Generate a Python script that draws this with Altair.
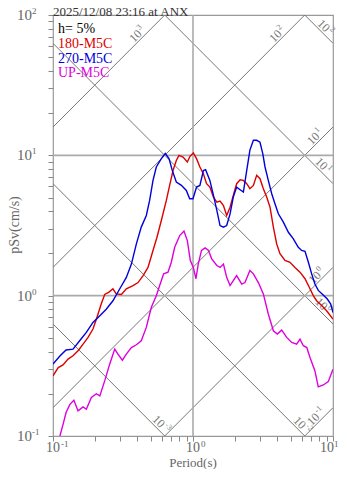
import altair as alt
import pandas as pd
import numpy as np

# ---------------- data ----------------
T_180 = [0.100, 0.109, 0.118, 0.128, 0.139, 0.151, 0.164, 0.178, 0.193, 0.206, 0.221, 0.234,
         0.251, 0.268, 0.283, 0.308, 0.334, 0.373, 0.405, 0.440, 0.477, 0.518, 0.553, 0.594,
         0.645, 0.681, 0.720, 0.760, 0.794, 0.849, 0.911, 0.952, 1.005, 1.060, 1.120, 1.186,
         1.250, 1.320, 1.400, 1.480, 1.560, 1.650, 1.740, 1.840, 1.940, 2.050, 2.170, 2.290,
         2.420, 2.550, 2.700, 2.850, 3.010, 3.180, 3.360, 3.550, 3.750, 3.960, 4.180, 4.540,
         4.930, 5.350, 5.810, 6.310, 6.850, 7.230, 7.640, 8.300, 9.000, 10.0]
SV_180 = [0.268, 0.307, 0.321, 0.353, 0.373, 0.405, 0.452, 0.504, 0.578, 0.70, 0.871, 1.02,
          1.06, 1.12, 1.03, 1.02, 1.12, 1.18, 1.24, 1.39, 1.59, 2.10, 2.61, 3.43,
          4.77, 6.1, 7.8, 9.2, 10.0, 9.73, 8.96, 9.84, 10.4, 9.47, 8.26, 7.39,
          6.28, 5.94, 5.04, 4.64, 4.72, 4.39, 3.73, 4.27, 5.18, 6.28, 6.70, 6.63,
          6.28, 5.78, 6.1, 7.2, 6.81, 5.78, 5.04, 4.27, 3.08, 2.34, 1.99, 1.78,
          1.73, 1.59, 1.47, 1.32, 1.12, 1.0, 0.92, 0.85, 0.78, 0.68]

T_270 = [0.100, 0.112, 0.124, 0.139, 0.155, 0.173, 0.193, 0.216, 0.240, 0.268, 0.300, 0.334,
         0.363, 0.394, 0.427, 0.464, 0.490, 0.518, 0.547, 0.594, 0.634, 0.674, 0.711, 0.760,
         0.826, 0.896, 0.947, 1.000, 1.060, 1.120, 1.186, 1.230, 1.320, 1.400, 1.480, 1.560,
         1.650, 1.740, 1.840, 1.940, 2.050, 2.170, 2.290, 2.420, 2.550, 2.700, 2.850, 3.010,
         3.150, 3.270, 3.450, 3.650, 3.850, 4.070, 4.420, 4.800, 5.210, 5.650, 5.970, 6.310,
         6.670, 7.040, 7.430, 7.850, 8.440, 9.110, 9.630, 10.0]
SV_270 = [0.325, 0.372, 0.41, 0.416, 0.477, 0.547, 0.645, 0.72, 0.80, 0.92, 1.12, 1.35,
          1.68, 2.34, 3.08, 3.73, 4.77, 6.63, 8.26, 9.47, 10.3, 9.47, 7.81, 6.45,
          6.11, 5.62, 4.9, 4.9, 5.94, 6.1, 7.8, 7.9, 6.63, 5.18, 4.05, 3.16,
          3.08, 3.16, 3.83, 5.04, 5.94, 5.69, 5.47, 7.8, 10.9, 12.8, 12.8, 12.4,
          10.3, 8.26, 6.63, 5.32, 4.52, 3.83, 3.34, 2.83, 2.54, 2.21, 2.10, 2.07,
          1.73, 1.43, 1.21, 1.09, 1.02, 0.946, 0.871, 0.759]

T_UP = [0.112, 0.118, 0.124, 0.132, 0.141, 0.151, 0.164, 0.173, 0.188, 0.204, 0.216, 0.234,
        0.254, 0.276, 0.291, 0.313, 0.334, 0.363, 0.394, 0.427, 0.464, 0.504, 0.547, 0.578,
        0.617, 0.663, 0.700, 0.740, 0.804, 0.862, 0.911, 0.957, 1.005, 1.050, 1.090, 1.150,
        1.220, 1.290, 1.360, 1.480, 1.560, 1.650, 1.740, 1.840, 1.940, 2.050, 2.230, 2.350,
        2.550, 2.700, 2.930, 3.180, 3.450, 3.750, 4.000, 4.300, 4.670, 5.070, 5.500, 5.810,
        6.140, 6.500, 6.850, 7.430, 7.850, 8.530, 9.250, 10.0]
SV_UP = [0.1, 0.121, 0.147, 0.168, 0.18, 0.151, 0.161, 0.155, 0.188, 0.2, 0.193, 0.247,
         0.325, 0.416, 0.383, 0.347, 0.383, 0.427, 0.447, 0.477, 0.594, 0.826, 1.0, 1.18,
         1.43, 1.47, 1.73, 2.21, 2.68, 2.89, 2.47, 1.78, 1.59, 1.32, 1.68, 2.10,
         2.19, 2.10, 1.83, 1.64, 1.59, 1.68, 1.35, 1.18, 1.28, 1.39, 1.21, 1.24,
         1.51, 1.43, 1.24, 1.03, 0.74, 0.562, 0.532, 0.568, 0.504, 0.464, 0.452, 0.49,
         0.44, 0.427, 0.363, 0.291, 0.224, 0.231, 0.244, 0.299]

SERIES = ["180-M5C", "270-M5C", "UP-M5C"]
COLORS = ["#dd0000", "#0000dd", "#dd00dd"]

TITLE = "2025/12/08 23:16 at ANX"
DAMPING = "h= 5%"

# tripartite grid levels: constant acceleration (gal) and displacement (cm)
ACC_LEVELS = [0.1, 1, 10, 100, 1000]
DISP_LEVELS = [0.01, 0.1, 1, 10, 100]
T_ENDS = [0.1, 10.0]

# diagonal labels: (base, exponent, kind, level, period where placed)
DIAG_LABELS = [
    ("10", "3", "a", 1000, 0.43),
    ("10", "2", "a", 100, 4.3),
    ("10", "2", "d", 100, 8.3),
    ("10", "1", "a", 10, 8.0),
    ("10", "1", "d", 10, 8.0),
    ("10", "0", "a", 1, 8.2),
    ("10", "0", "d", 1, 8.0),
    ("10", "-3", "d", 0.01, 0.55),
    ("10", "-2", "d", 0.1, 5.6),
    ("10", "-1", "a", 0.1, 8.0),
]

X_TICKS = [0.1, 0.2, 0.3, 0.4, 0.5, 0.6, 0.7, 0.8, 0.9,
           1, 2, 3, 4, 5, 6, 7, 8, 9, 10]
Y_TICKS = [0.1, 0.2, 0.3, 0.4, 0.5, 0.6, 0.7, 0.8, 0.9,
           1, 2, 3, 4, 5, 6, 7, 8, 9,
           10, 20, 30, 40, 50, 60, 70, 80, 90, 100]
X_LABEL_T = [0.1, 1]
X_LABEL_EXP = ["-1", "0"]
X_LAST_T = [10]
X_LAST_EXP = ["1"]
Y_LABEL_SV = [0.1, 1, 10, 100]
Y_LABEL_EXP = ["-1", "0", "1", "2"]

# ---------------- build tables ----------------
frames = []
for name, ts, svs in [("180-M5C", T_180, SV_180), ("270-M5C", T_270, SV_270), ("UP-M5C", T_UP, SV_UP)]:
    frames.append(pd.DataFrame({"series": name, "T": ts, "Sv": svs, "i": range(len(ts))}))
curves = pd.concat(frames, ignore_index=True)

rows = []
for a in ACC_LEVELS:
    for t in T_ENDS:
        rows.append({"id": f"a{a}", "T": t, "Sv": a * t / (2 * np.pi)})
for d in DISP_LEVELS:
    for t in T_ENDS:
        rows.append({"id": f"d{d}", "T": t, "Sv": 2 * np.pi * d / t})
diag_df = pd.DataFrame(rows)

lab_rows = []
for base, ex, kind, lev, t in DIAG_LABELS:
    sv = lev * t / (2 * np.pi) if kind == "a" else 2 * np.pi * lev / t
    lab_rows.append({"T": t, "Sv": sv, "base": base, "exp": ex, "ang": 315 if kind == "a" else 45})
diag_lab = pd.DataFrame(lab_rows)

FONT = "Liberation Serif"
GRAY = "#888888"
TXT = "#666666"

xs = alt.Scale(type="log", domain=[0.1, 10])
ys = alt.Scale(type="log", domain=[0.1, 100])
x_enc = alt.X("T:Q", scale=xs, axis=alt.Axis(values=X_TICKS, labels=False, title=None, tickSize=5,
                                               tickColor=GRAY, domain=False, grid=False))
y_enc = alt.Y("Sv:Q", scale=ys, axis=alt.Axis(values=Y_TICKS, labels=False, title=None, tickSize=5,
                                                tickColor=GRAY, domain=False, grid=False))

one = pd.DataFrame({"k": [0]})

diag = alt.Chart(diag_df).mark_line(clip=True, color="#777777", strokeWidth=1).encode(
    x=x_enc, y=y_enc, detail="id:N", order="T:Q")

vgrid = alt.Chart(pd.DataFrame({"T": [1.0]})).mark_rule(color="#aaaaaa", strokeWidth=1.6).encode(x=x_enc)
hgrid = alt.Chart(pd.DataFrame({"Sv": [1.0, 10.0]})).mark_rule(color="#aaaaaa", strokeWidth=1.6).encode(y=y_enc)

diag_base = alt.Chart(diag_lab).mark_text(font=FONT, fontSize=12, color="#777777", align="center",
                                          baseline="alphabetic", dx=-3, dy=-2).encode(
    x=x_enc, y=y_enc, text="base:N", angle=alt.Angle("ang:Q", scale=None))
diag_exp = alt.Chart(diag_lab).mark_text(font=FONT, fontSize=8, color="#777777", align="left",
                                         baseline="alphabetic", dx=4, dy=-7).encode(
    x=x_enc, y=y_enc, text="exp:N", angle=alt.Angle("ang:Q", scale=None))

lines = alt.Chart(curves).mark_line(strokeWidth=1.4, clip=True).encode(
    x=x_enc, y=y_enc,
    color=alt.Color("series:N", scale=alt.Scale(domain=SERIES, range=COLORS), legend=None),
    order="i:Q")

xl = pd.DataFrame({"T": X_LABEL_T, "exp": X_LABEL_EXP})
xbase = alt.Chart(xl).mark_text(font=FONT, fontSize=14, color=TXT, align="center",
                                baseline="alphabetic").encode(x=x_enc, y=alt.value(437), text=alt.value("10"))
xexp = alt.Chart(xl).mark_text(font=FONT, fontSize=9, color=TXT, align="left", dx=8,
                               baseline="alphabetic").encode(x=x_enc, y=alt.value(432), text="exp:N")
xl2 = pd.DataFrame({"T": X_LAST_T, "exp": X_LAST_EXP})
xbase2 = alt.Chart(xl2).mark_text(font=FONT, fontSize=14, color=TXT, align="right", dx=1,
                                  baseline="alphabetic").encode(x=x_enc, y=alt.value(437), text=alt.value("10"))
xexp2 = alt.Chart(xl2).mark_text(font=FONT, fontSize=9, color=TXT, align="left", dx=1,
                                 baseline="alphabetic").encode(x=x_enc, y=alt.value(432), text="exp:N")

yl = pd.DataFrame({"Sv": Y_LABEL_SV, "exp": Y_LABEL_EXP})
ybase = alt.Chart(yl).mark_text(font=FONT, fontSize=15, color=TXT, align="left", dy=5,
                                baseline="alphabetic").encode(x=alt.value(-36), y=y_enc, text=alt.value("10"))
yexp = alt.Chart(yl).mark_text(font=FONT, fontSize=9, color=TXT, align="left", dy=-1,
                               baseline="alphabetic").encode(x=alt.value(-21), y=y_enc, text="exp:N")

xtitle = alt.Chart(one).mark_text(font=FONT, fontSize=13, color=TXT, align="center",
                                  baseline="alphabetic").encode(x=alt.value(140), y=alt.value(452),
                                                                text=alt.value("Period(s)"))
ytitle = alt.Chart(one).mark_text(font=FONT, fontSize=14, color=TXT, align="center", angle=270,
                                  baseline="alphabetic").encode(x=alt.value(-34), y=alt.value(210),
                                                                text=alt.value("pSv(cm/s)"))
title = alt.Chart(one).mark_text(font=FONT, fontSize=13, color="#333333", align="left",
                                 baseline="alphabetic").encode(x=alt.value(0), y=alt.value(0.5),
                                                               text=alt.value(TITLE))

legend_layers = []
for txt, col, yy in [(DAMPING, "#000000", 18), (SERIES[0], COLORS[0], 33),
                     (SERIES[1], COLORS[1], 48), (SERIES[2], COLORS[2], 62)]:
    legend_layers.append(alt.Chart(one).mark_text(font=FONT, fontSize=14, color=col, align="left",
                                                  baseline="alphabetic").encode(
        x=alt.value(5), y=alt.value(yy), text=alt.value(txt)))

chart = alt.layer(
    diag, vgrid, hgrid, diag_base, diag_exp, lines,
    xbase, xexp, xbase2, xexp2, ybase, yexp, xtitle, ytitle, title, *legend_layers
).properties(
    width=280, height=421,
    autosize=alt.AutoSizeParams(type="none"),
    padding={"left": 45, "top": 7, "right": 6, "bottom": 33},
).configure_view(stroke="#999999", strokeWidth=1.2)

chart.save("out.html", embed_options={"renderer": "svg", "actions": False})
